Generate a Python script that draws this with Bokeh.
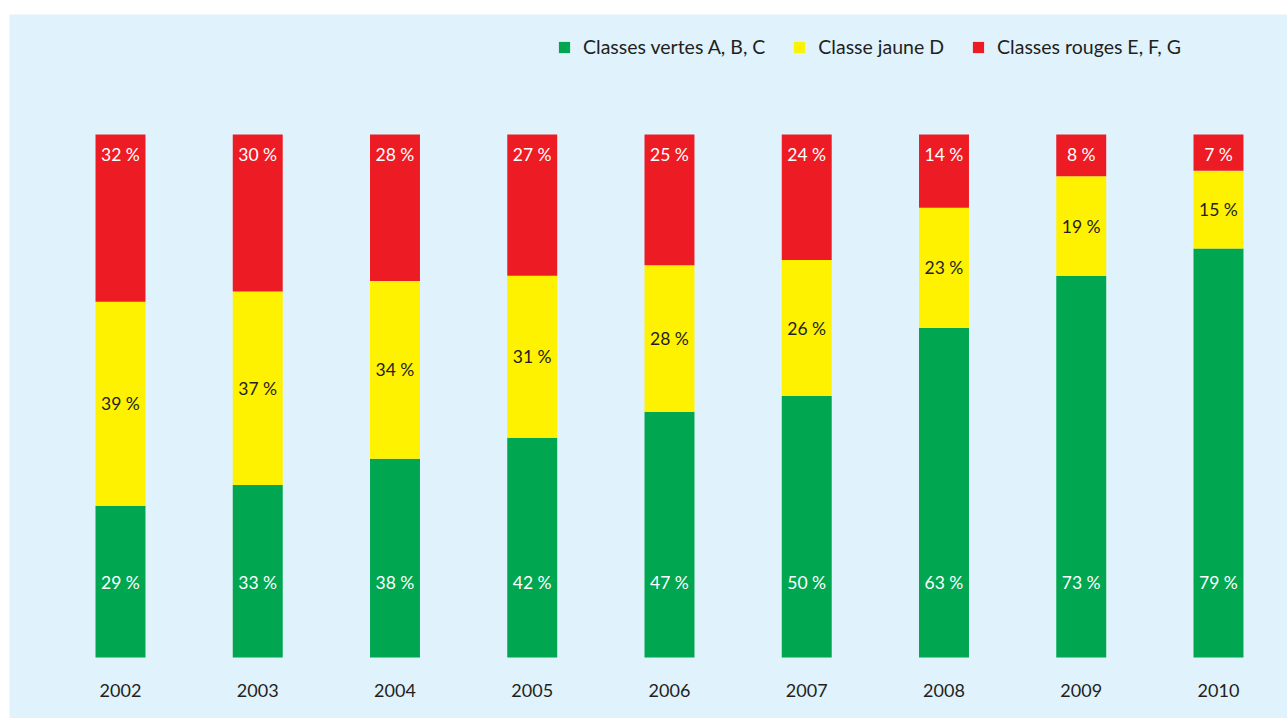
from bokeh.plotting import figure
from bokeh.models import ColumnDataSource, Legend, LegendItem
from bokeh.core.properties import value
from bokeh.embed import file_html
from bokeh.resources import INLINE

years = ["2002", "2003", "2004", "2005", "2006", "2007", "2008", "2009", "2010"]
vertes = [29, 33, 38, 42, 47, 50, 63, 73, 79]
jaune = [39, 37, 34, 31, 28, 26, 23, 19, 15]
rouges = [32, 30, 28, 27, 25, 24, 14, 8, 7]
labels = ["Classes vertes A, B, C", "Classe jaune D", "Classes rouges E, F, G"]

GREEN = "#00a650"
YELLOW = "#fff200"
RED = "#ed1c24"
BG = "#e0f2fc"
TXT = "#231f20"
FONT = "Lato"

xs = list(range(len(years)))
tot = [g + j + r for g, j, r in zip(vertes, jaune, rouges)]
gn = [100.0 * g / t for g, t in zip(vertes, tot)]
jn = [100.0 * j / t for j, t in zip(jaune, tot)]
rn = [100.0 * r / t for r, t in zip(rouges, tot)]

src = ColumnDataSource(dict(x=xs, g=gn, j=jn, r=rn))

p = figure(width=1287, height=718, x_range=(-0.8087, 8.5028), y_range=(-11.66, 122.94),
           output_backend="svg", toolbar_location=None,
           x_axis_location=None, y_axis_location=None,
           min_border_left=9, min_border_right=0, min_border_top=14, min_border_bottom=0)
p.background_fill_color = BG
p.border_fill_color = "white"
p.outline_line_color = None
p.grid.visible = False

rs = p.vbar_stack(["g", "j", "r"], x="x", width=0.364, color=[GREEN, YELLOW, RED],
                  line_color=None, source=src)

def pct(v):
    return [f"{a} %" for a in v]

year_src = ColumnDataSource(dict(x=xs, y=[-6.3] * len(xs), t=years))
green_src = ColumnDataSource(dict(x=xs, y=[14.3] * len(xs), t=pct(vertes)))
yel_src = ColumnDataSource(dict(x=xs, y=[g + j / 2 for g, j in zip(gn, jn)], t=pct(jaune)))
red_src = ColumnDataSource(dict(x=xs, y=[96.2] * len(xs), t=pct(rouges)))

for s, c, fs in ((year_src, TXT, "18px"), (green_src, "white", "17.5px"),
                 (yel_src, TXT, "17.5px"), (red_src, "white", "17.5px")):
    p.text(x="x", y="y", text="t", source=s, text_align="center", text_baseline="middle",
           text_font=value(FONT), text_font_size=fs, text_color=c)

legend = Legend(items=[LegendItem(label=l, renderers=[r]) for l, r in zip(labels, rs)],
                orientation="horizontal", location=(548, 660),
                background_fill_alpha=0, border_line_color=None,
                glyph_width=14, glyph_height=14, label_standoff=12, spacing=27,
                padding=0, margin=0, label_height=20,
                label_text_font=FONT, label_text_font_size="19.5px", label_text_color=TXT)
p.add_layout(legend)

open("out.html", "w").write(file_html(p, INLINE))
